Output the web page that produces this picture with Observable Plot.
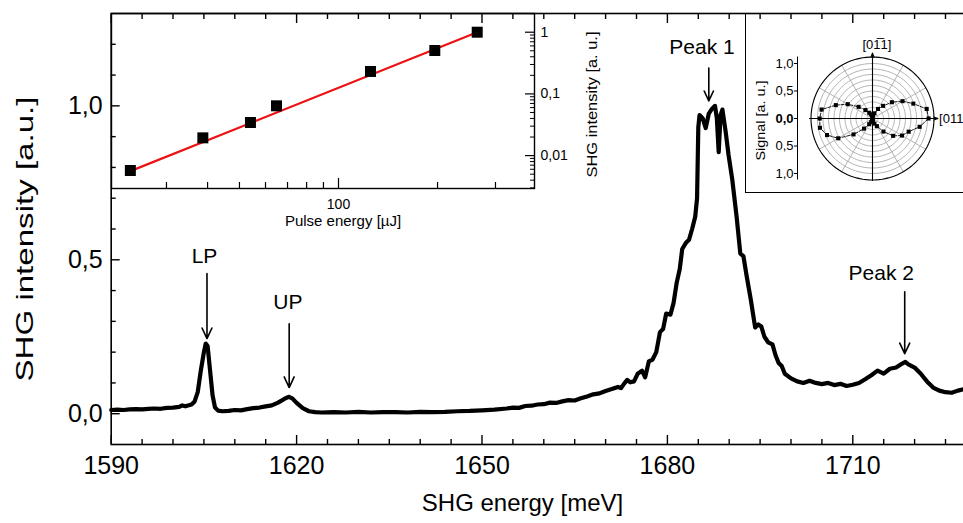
<!DOCTYPE html>
<html><head><meta charset="utf-8">
<script src="https://cdn.jsdelivr.net/npm/d3@7"></script>
<script src="https://cdn.jsdelivr.net/npm/@observablehq/plot@0.6"></script>
<style>
html,body{margin:0;padding:0;background:#fff;overflow:hidden;width:963px;height:523px}
#wrap{position:relative;width:963px;height:523px;overflow:hidden;font-family:"Liberation Sans",Arial,sans-serif}
.layer{position:absolute;max-width:none !important}
</style></head><body><div id="wrap"></div>
<script>
// ---- main spectrum ----
const energy = [1590,1591,1592,1593,1594,1595,1596,1597,1598,1599,1600,1601,1601.5,1602,1603,1603.5,1604,1604.5,1605,1605.3,1605.6,1606,1606.4,1606.8,1607.3,1608,1609,1610,1611,1612,1613,1614,1615,1616,1617,1618,1618.7,1619.3,1620,1621,1622,1623,1624,1626,1628,1630,1632,1634,1636,1638,1640,1642,1644,1646,1648,1650,1652,1654,1655,1656,1657,1658,1659,1660,1661,1662,1663,1664,1665,1666,1667,1668,1669,1670,1671,1672,1672.5,1673,1673.5,1674,1674.6,1675.2,1675.9,1676.4,1677,1677.6,1678.2,1678.8,1679.3,1679.8,1680.5,1681,1681.5,1682,1682.4,1683,1683.5,1684,1684.5,1684.8,1685.0,1685.2,1685.7,1686.2,1686.7,1687.2,1687.7,1688,1688.3,1688.6,1688.9,1689.4,1689.9,1690.5,1691.2,1691.8,1692.3,1692.8,1693.5,1694.2,1694.7,1695.2,1695.7,1696.3,1697,1697.5,1698,1698.5,1699,1700,1701,1702,1703,1704,1705,1706,1707,1708,1709,1710,1711,1712,1713,1714,1715,1716,1717,1718,1718.5,1719,1720,1721,1722,1723,1724,1725,1726,1727,1728];
const intensity = [0.012,0.013,0.012,0.014,0.015,0.014,0.016,0.017,0.016,0.019,0.020,0.022,0.027,0.024,0.030,0.040,0.070,0.140,0.200,0.228,0.220,0.140,0.060,0.020,0.010,0.008,0.009,0.012,0.011,0.015,0.018,0.020,0.024,0.027,0.036,0.048,0.055,0.050,0.035,0.018,0.008,0.005,0.004,0.005,0.004,0.006,0.004,0.005,0.005,0.004,0.006,0.005,0.006,0.008,0.009,0.011,0.013,0.017,0.020,0.019,0.025,0.026,0.030,0.031,0.036,0.035,0.040,0.044,0.043,0.050,0.056,0.063,0.066,0.074,0.080,0.087,0.083,0.098,0.110,0.102,0.105,0.130,0.140,0.118,0.170,0.176,0.200,0.265,0.275,0.325,0.322,0.360,0.425,0.470,0.535,0.555,0.565,0.600,0.640,0.700,0.930,0.970,0.960,0.928,0.975,0.990,1.000,0.960,0.850,0.970,0.988,0.920,0.840,0.760,0.640,0.520,0.512,0.450,0.370,0.280,0.290,0.283,0.250,0.232,0.225,0.190,0.165,0.155,0.130,0.115,0.105,0.100,0.107,0.100,0.096,0.100,0.093,0.097,0.090,0.094,0.100,0.112,0.125,0.140,0.130,0.146,0.150,0.163,0.168,0.160,0.150,0.130,0.105,0.085,0.075,0.070,0.068,0.075,0.080];
const xMajorTicks = [1590,1620,1650,1680,1710];
const xMinorTicks = [1595,1600,1605,1610,1615,1625,1630,1635,1640,1645,1655,1660,1665,1670,1675,1685,1690,1695,1700,1705,1715,1720,1725];
const yMajorTicks = [0,0.5,1.0];
const yMinorTicks = [0.1,0.2,0.3,0.4,0.6,0.7,0.8,0.9,1.1,1.2];
// annotations: label, label position, arrow tail and tip (data units)
const annLabel = ["LP","UP","Peak 1","Peak 2"];
const annLabelX = [1605.1,1618.6,1685.6,1714.6];
const annLabelY = [0.511,0.361,1.190,0.457];
const annArrowX = [1605.5,1618.8,1686.7,1718.4];
const annTailY = [0.455,0.292,1.123,0.396];
const annTipY = [0.244,0.085,1.016,0.195];

// ---- inset 1: power dependence ----
const pulseEnergy = [23.3,38.7,54.0,64.8,125.1,196.2,264];
const shgPower = [0.00574,0.0194,0.0344,0.0641,0.231,0.505,1.0];
const fitEnergy = [23.3,264];
const fitPower = [0.0056,1.0];
const insetXMinor = [30,40,50,60,70,80,90,200,300];
const insetXMajor = [100];
const insetYMajor = [0.01,0.1,1];
const insetYMinor = [0.003,0.004,0.005,0.006,0.007,0.008,0.009,0.02,0.03,0.04,0.05,0.06,0.07,0.08,0.09,0.2,0.3,0.4,0.5,0.6,0.7,0.8,0.9,2];

// ---- inset 2: polar plot ----
const polarAngle = [0,10,20,30,40,50,60,70,80,90,100,110,120,130,140,150,160,170,180,190,200,210,220,230,240,250,260,270,280,290,300,310,320,330,340,350];
const polarSignal = [1.02,1.0,0.79,0.63,0.46,0.30,0.20,0.10,0.05,0.03,0.05,0.08,0.12,0.20,0.33,0.52,0.71,0.94,0.96,0.97,0.88,0.72,0.45,0.24,0.12,0.07,0.04,0.03,0.05,0.10,0.16,0.31,0.49,0.62,0.70,0.87];
const polarRings = [0.1,0.2,0.3,0.4,0.5,0.6,0.7,0.8,0.9,1.0];
const polarSpokes = [0,30,60,90,120,150,180,210,240,270,300,330];
const polarTicks = [-1,-0.5,0,0.5,1];

const FONT = '"Liberation Sans", Arial, sans-serif';
const comma = d => d.toFixed(1).replace(".", ",");
const wrap = document.getElementById("wrap");
function place(svg, left, top) {
  svg.classList.add("layer");
  svg.style.left = left + "px"; svg.style.top = top + "px"; svg.style.maxWidth = "none";
  wrap.appendChild(svg);
}
function stretch(svg, content, len) {
  d3.select(svg).selectAll("text").filter(function() { return this.textContent === content; })
    .attr("textLength", len).attr("lengthAdjust", "spacingAndGlyphs");
}

// ===== MAIN =====
const spectrum = energy.map((e, i) => ({e, v: intensity[i]}));
const ann = annLabel.map((t, i) => ({t, lx: annLabelX[i], ly: annLabelY[i], ax: annArrowX[i], y1: annTailY[i], y2: annTipY[i]}));
const mainW = 980;
const mainRight = 110.7 + 140 * 6.18;
const main = Plot.plot({
  width: mainW, height: 523,
  marginLeft: 110.7, marginRight: mainW - mainRight, marginTop: 13, marginBottom: 79,
  style: {fontFamily: FONT, background: "transparent", color: "black"},
  x: {domain: [1590, 1730], label: null},
  y: {domain: [-0.1, 1.3], label: null},
  marks: [
    Plot.frame({stroke: "black", strokeWidth: 1.6}),
    Plot.axisX({ticks: xMajorTicks, tickSize: 0, tickPadding: 12, tickFormat: d => String(d), fontSize: 25}),
    Plot.axisX({ticks: xMajorTicks, tickSize: -9, tickFormat: () => "", strokeWidth: 1.4}),
    Plot.axisX({ticks: xMinorTicks, tickSize: -5, tickFormat: () => "", strokeWidth: 1.4}),
    Plot.axisX({anchor: "top", ticks: xMajorTicks, tickSize: -9, tickFormat: () => "", strokeWidth: 1.4}),
    Plot.axisX({anchor: "top", ticks: xMinorTicks, tickSize: -5, tickFormat: () => "", strokeWidth: 1.4}),
    Plot.axisY({ticks: yMajorTicks, tickSize: 0, tickPadding: 8.5, tickFormat: comma, fontSize: 25}),
    Plot.axisY({ticks: yMajorTicks, tickSize: -9, tickFormat: () => "", strokeWidth: 1.4}),
    Plot.axisY({ticks: yMinorTicks, tickSize: -5, tickFormat: () => "", strokeWidth: 1.4}),
    Plot.text(["SHG energy [meV]"], {frameAnchor: "bottom", textAnchor: "middle", dx: 522 - (110.7 + mainRight) / 2, dy: 66, fontSize: 24}),
    Plot.text(["SHG intensity [a.u.]"], {frameAnchor: "left", textAnchor: "middle", dx: -85.7, dy: 10, rotate: -90, fontSize: 24}),
    Plot.line(spectrum, {x: "e", y: "v", stroke: "black", strokeWidth: 4.2, strokeLinejoin: "round", curve: "linear"}),
    Plot.arrow(ann, {x1: "ax", x2: "ax", y1: "y1", y2: "y2", stroke: "black", strokeWidth: 1.6, headLength: 11, headAngle: 50}),
    Plot.text(ann, {x: "lx", y: "ly", text: "t", fontSize: 21, textAnchor: "middle", lineAnchor: "middle"})
  ]
});
place(main, 0, 0);
stretch(main, "SHG intensity [a.u.]", 285);

// ===== INSET 1 =====
const pts = pulseEnergy.map((x, i) => ({x, y: shgPower[i]}));
const fit = fitEnergy.map((x, i) => ({x, y: fitPower[i]}));
const i1W = 620, i1H = 240;
const inset1 = Plot.plot({
  width: i1W, height: i1H,
  marginLeft: 111, marginRight: i1W - 534, marginTop: 13, marginBottom: i1H - 188,
  style: {fontFamily: FONT, background: "transparent", color: "black"},
  x: {type: "log", domain: [20.42, 394.2], label: null},
  y: {type: "log", domain: [0.00293, 2.01], label: null},
  marks: [
    Plot.frame({stroke: "black", strokeWidth: 1.4}),
    Plot.axisX({ticks: insetXMajor, tickSize: -10, tickPadding: 21, tickFormat: d => String(d), fontSize: 14, strokeWidth: 1.2, label: null}),
    Plot.axisX({ticks: insetXMinor, tickSize: -6, tickFormat: () => "", strokeWidth: 1.2, label: null}),
    Plot.axisY({anchor: "right", ticks: insetYMajor, tickSize: -10, tickPadding: 16, tickFormat: d => String(d).replace(".", ","), fontSize: 14, strokeWidth: 1.2, label: null}),
    Plot.axisY({anchor: "right", ticks: insetYMinor, tickSize: -5, tickFormat: () => "", strokeWidth: 1, label: null}),
    Plot.text(["Pulse energy [µJ]"], {frameAnchor: "bottom", textAnchor: "middle", dx: 20, dy: 37, fontSize: 15}),
    Plot.text(["SHG intensity [a. u.]"], {frameAnchor: "right", textAnchor: "middle", dx: 58, dy: 3.5, rotate: -90, fontSize: 14}),
    Plot.line(fit, {x: "x", y: "y", stroke: "#ee1111", strokeWidth: 2.2}),
    Plot.dot(pts, {x: "x", y: "y", symbol: "square", r: 6.2, fill: "black", stroke: "none"})
  ]
});
place(inset1, 0, 0);
stretch(inset1, "SHG intensity [a. u.]", 146);

// ===== INSET 2 (polar) =====
const rad = a => a * Math.PI / 180;
const polarPts = polarAngle.map((a, i) => ({a, r: polarSignal[i]}));
const polarLoop = polarPts.concat([polarPts[0]]);
const rOuter = 1.118;
const circleAngles = d3.range(0, 361, 3);
const ringPts = polarRings.flatMap(r => circleAngles.map(a => ({r, a})));
const crossAxes = [{x1: -1.145, y1: 0, x2: 1.19, y2: 0}, {x1: 0, y1: -1.127, x2: 0, y2: 1.19}];
const p2W = 240, p2H = 180, cx = 127, cy = 105, R = 61.5;
const box = document.createElement("div");
box.className = "layer";
Object.assign(box.style, {left: "745px", top: "13px", width: p2W + "px", height: p2H + "px", border: "1.3px solid black", boxSizing: "border-box"});
wrap.appendChild(box);
const polar = Plot.plot({
  width: p2W, height: p2H,
  marginLeft: cx - R, marginRight: p2W - (cx + R), marginTop: cy - R, marginBottom: p2H - (cy + R),
  style: {fontFamily: FONT, background: "transparent", color: "black", overflow: "visible"},
  x: {domain: [-rOuter, rOuter], axis: null},
  y: {domain: [-rOuter, rOuter], label: null},
  marks: [
    Plot.line(ringPts, {x: d => d.r * Math.cos(rad(d.a)), y: d => d.r * Math.sin(rad(d.a)), z: "r", stroke: "#aaaaaa", strokeWidth: 0.9}),
    Plot.link(polarSpokes, {x1: 0, y1: 0, x2: a => rOuter * Math.cos(rad(a)), y2: a => rOuter * Math.sin(rad(a)), stroke: "#aaaaaa", strokeWidth: 0.9}),
    Plot.line(circleAngles, {x: a => rOuter * Math.cos(rad(a)), y: a => rOuter * Math.sin(rad(a)), stroke: "black", strokeWidth: 1.1}),
    Plot.arrow(crossAxes, {x1: "x1", y1: "y1", x2: "x2", y2: "y2", stroke: "black", strokeWidth: 1.1, headLength: 6, headAngle: 40}),
    Plot.line(polarLoop, {x: d => d.r * Math.cos(rad(d.a)), y: d => d.r * Math.sin(rad(d.a)), stroke: "black", strokeWidth: 0.9, strokeDasharray: "3,1.5"}),
    Plot.dot(polarPts, {x: d => d.r * Math.cos(rad(d.a)), y: d => d.r * Math.sin(rad(d.a)), symbol: "square", r: 2.3, fill: "black", stroke: "none"}),
    Plot.ruleX([-rOuter], {y1: -rOuter, y2: rOuter, dx: -13.5, stroke: "black", strokeWidth: 1}),
    Plot.axisY({ticks: polarTicks, dx: -13.5, tickSize: 3, tickPadding: 1, tickFormat: d => comma(Math.abs(d)), fontSize: 13, label: null}),
    Plot.text(["Signal [a. u.]"], {frameAnchor: "left", textAnchor: "middle", dx: -50.5, dy: 2, rotate: -90, fontSize: 12.5}),
    Plot.text(["[011]"], {x: [1.21], y: [0], textAnchor: "start", fontSize: 13}),
    Plot.text(["[01\u03051]"], {x: [0.08], y: [1.12], dy: -12, textAnchor: "middle", fontSize: 13})
  ]
});
place(polar, 745, 13);
stretch(polar, "Signal [a. u.]", 80);
d3.select(polar).selectAll("text").filter(function() { return this.textContent === "0,0"; }).attr("font-weight", "bold");
</script></body></html>
